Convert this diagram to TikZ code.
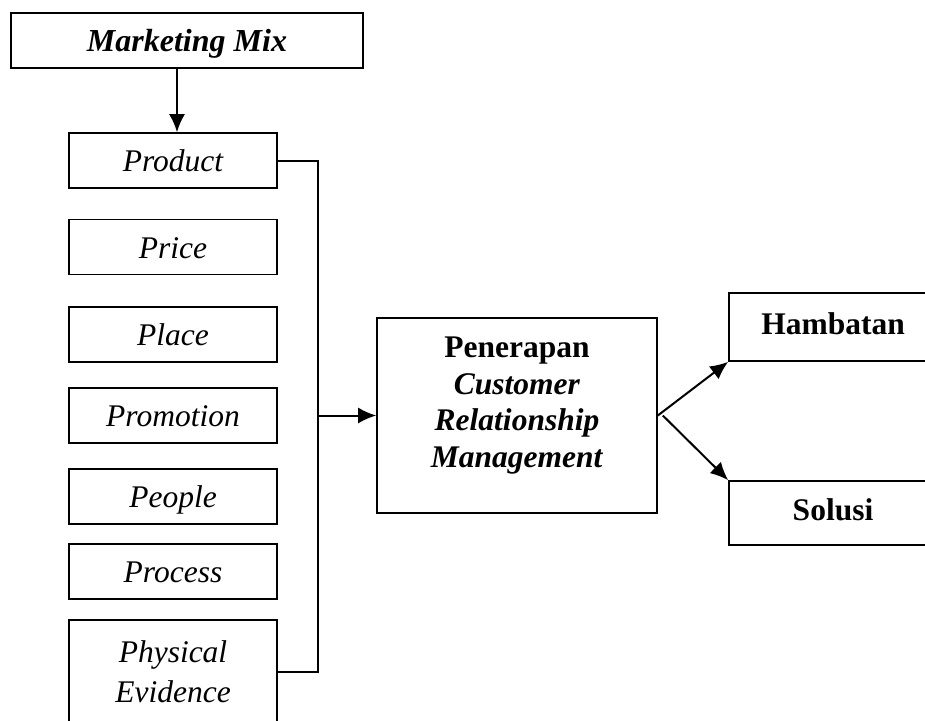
\documentclass[tikz,border=0pt]{standalone}
\usepackage{fontspec}
\setmainfont{Liberation Serif}
\usetikzlibrary{arrows.meta}

\begin{document}
\begin{tikzpicture}[x=1pt,y=-1pt]
    % mm = marketing mix, crm = penerapan box, jn = junction on the spine
    \tikzstyle{every node}=[rectangle, draw=black, line width=1.6pt]
    \tikzstyle{mixbox}=[minimum width=208pt, minimum height=55pt, text height=22pt, text depth=0pt, font=\fontsize{31.5}{36.5}\selectfont\itshape]
    \tikzstyle{outbox}=[minimum width=208pt, text height=22pt, text depth=8pt, font=\fontsize{31.5}{36.5}\selectfont\bfseries]
    \tikzstyle{link}=[black, line width=2pt]
    \tikzstyle{linkto}=[link, -{Latex[length=18pt, width=16pt]}]
    \useasboundingbox (0,0) rectangle (925,720);
    \clip (0,0) rectangle (925,720);

    \node[minimum width=352pt, minimum height=55pt, text height=22pt, text depth=0pt, font=\fontsize{32}{36.5}\selectfont\bfseries\itshape] (mm) at (187,40.5) {Marketing Mix};

    \node[mixbox] (prod) at (173,160.5) {Product};
    \node[mixbox] (price) at (173,247) {Price};
    \node[mixbox] (place) at (173,334.5) {Place};
    \node[mixbox] (promo) at (173,415.5) {Promotion};
    \node[mixbox] (people) at (173,496.5) {People};
    \node[mixbox] (proc) at (173,571.5) {Process};
    \node[minimum width=208pt, minimum height=104pt, align=center, font=\fontsize{31.5}{40}\selectfont\itshape] (phys) at (173,672) {Physical\\Evidence};

    \node[minimum width=280pt, minimum height=195pt, align=center, text depth=27pt, font=\fontsize{31.5}{36.5}\selectfont\bfseries] (crm) at (517,415.5) {Penerapan\\\textit{Customer}\\\textit{Relationship}\\\textit{Management}};

    \node[outbox, minimum height=68pt] (hamb) at (833,327) {Hambatan};
    \node[outbox, minimum height=64pt] (solusi) at (833,513) {Solusi};

    \draw[linkto] ([xshift=-10pt]mm.south) -- ([xshift=4pt]prod.north);

    \coordinate (jn) at (318,415.5);
    \draw[link] (prod.east) -| (jn) |- (phys.east);
    \draw[linkto] (jn) -- (crm.west);

    \draw[linkto] (crm.east) -- (hamb.south west);
    \draw[linkto] ([xshift=5pt]crm.east) -- (solusi.north west);
\end{tikzpicture}
\end{document}
